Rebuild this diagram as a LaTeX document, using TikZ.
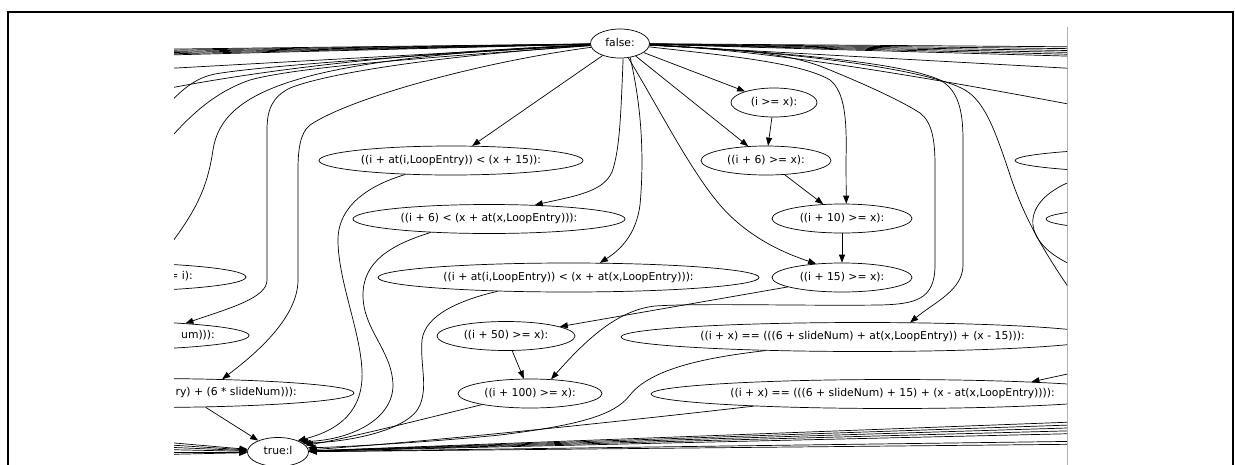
\documentclass[tikz,border=0pt]{standalone}
\usepackage{fontspec}
\setmainfont{DejaVu Sans}
\usetikzlibrary{shapes.geometric,arrows.meta}
\begin{document}
\begin{tikzpicture}[x=1pt,y=-1pt,
  gn/.style={draw, ellipse, line width=0.7pt, minimum height=29pt, inner sep=0pt,
             text height=7.6pt, text depth=2.4pt, font=\fontsize{10.8pt}{13pt}\selectfont},
  gt/.style={inner sep=0pt, text height=7.6pt, text depth=2.4pt,
             font=\fontsize{10.8pt}{13pt}\selectfont},
  ed/.style={line width=0.7pt, -{Triangle[length=8pt,width=6pt]}},
  ln/.style={line width=0.7pt},
]
\useasboundingbox (0,0) rectangle (1235,464);
% outer frame and right viewport border
\draw[line width=2pt] (8,12) rectangle (1233,500);
\draw[black!30, line width=1pt] (1067.5,27) -- (1067.5,470);

\begin{scope}
\clip (174,27) rectangle (1067,470);

% ---- nodes ----
\node[gn, minimum width=59pt]  (f)    at (620,43.5)   {false:};
\node[gn, minimum width=86pt]  (ige)  at (774,102.5)  {(i >= x):};
\node[gn, minimum width=264pt] (ca)   at (451,160.5)  {((i + at(i,LoopEntry)) < (x + 15)):};
\node[gn, minimum width=130pt] (i6)   at (766,160.5)  {((i + 6) >= x):};
\node[gn, minimum width=272pt] (cb)   at (489,219)    {((i + 6) < (x + at(x,LoopEntry))):};
\node[gn, minimum width=140pt] (i10)  at (842,218.5)  {((i + 10) >= x):};
\node[gn, minimum width=381pt] (cc)   at (568.5,277.5){((i + at(i,LoopEntry)) < (x + at(x,LoopEntry))):};
\node[gn, minimum width=140pt] (i15)  at (842,277.5)  {((i + 15) >= x):};
\node[gn, minimum width=138pt] (i50)  at (506,336)    {((i + 50) >= x):};
\node[gn, minimum width=144pt] (i100) at (530,393.5)  {((i + 100) >= x):};
\node[gn, minimum width=483pt] (cd)   at (862.5,337)  {((i + x) == (((6 + slideNum) + at(x,LoopEntry)) + (x - 15))):};
\node[gn, minimum width=483pt] (ce)   at (892.5,394)  {((i + x) == (((6 + slideNum) + 15) + (x - at(x,LoopEntry)))):};
\node[gn, minimum width=61pt]  (t)    at (278,452)    {true:l};

% nodes cut by the left edge of the view
\node[gn, minimum width=300pt] (p1) at (96,277) {};
\node[gt, anchor=east] (p1t) at (193,277) {= i):};
\node[gn, minimum width=300pt] (p2) at (99,335.5) {};
\node[gt, anchor=east] (p2t) at (215,335.5) {um))):};
\node[gn, minimum width=420pt] (p3) at (144,393) {};
\node[gt, anchor=east] (p3t) at (297,393) {ry) + (6 * slideNum))):};

% nodes cut by the right edge of the view
\node[gn, minimum width=482pt] (r1) at (1256,160.5) {};
\node[gn, minimum width=400pt] (r2) at (1246,219) {};

% ---- end points outside the view ----
\coordinate (lb1) at (140,49.5);
\coordinate (lb2) at (140,50.7);
\coordinate (lb3) at (140,52);
\coordinate (lb4) at (140,53.2);
\coordinate (lb5) at (140,54.5);
\coordinate (lb6) at (140,55.7);
\coordinate (lx2) at (140,70);
\coordinate (lx3) at (150,92);
\coordinate (lx4) at (155,120);
\coordinate (lx5) at (160,150);
\coordinate (lx6) at (150,270);

\coordinate (rb1) at (1100,47);
\coordinate (rb2) at (1100,49);
\coordinate (rb3) at (1100,51);
\coordinate (rb4) at (1100,53);
\coordinate (rb5) at (1100,55);
\coordinate (rb6) at (1100,57);
\coordinate (rx1) at (1100,70);
\coordinate (rx2) at (1100,110);
\coordinate (rx3) at (1090,318);
\coordinate (rl1) at (1090,175);
\coordinate (rl2) at (1090,272);
\coordinate (rin) at (1100,367);

\coordinate (rt1) at (1100,421);
\coordinate (rt2) at (1100,424);
\coordinate (rt3) at (1100,427);
\coordinate (rt4) at (1100,430);
\coordinate (rt5) at (1100,433);
\coordinate (rt6) at (1100,441);
\coordinate (rt7) at (1100,444);
\coordinate (lt1) at (140,440);
\coordinate (lt2) at (140,443);
\coordinate (lt3) at (140,446);
\coordinate (lt4) at (140,449);
\coordinate (lt5) at (140,452);
\coordinate (lt6) at (140,455);

% ---- edges leaving "false:" to the left ----
\foreach \k in {1,...,6} \draw[ed] (f) -- (lb\k);
\draw[ed] (f) -- (lx2);
\draw[ed] (f) .. controls (400,53) and (260,70) .. (lx3);
\draw[ed] (f) .. controls (420,55) and (260,66) .. (215,74)
              .. controls (195,78) and (180,90) .. (lx4);
\draw[ed] (f) .. controls (450,56) and (300,66) .. (250,80)
              .. controls (215,92) and (190,115) .. (lx5);
\draw[ed] (f) .. controls (300,58) and (222,90) .. (213,150)
              .. controls (207,190) and (195,215) .. (lx6);
\draw[ed] (f) .. controls (450,55) and (330,72) .. (290,88)
              .. controls (272,97) and (267,110) .. (267,130) -- (267,280)
              .. controls (267,298) and (230,308) .. (p2.8);
\draw[ed] (f) .. controls (480,62) and (350,98) .. (310,125)
              .. controls (300,133) and (298,150) .. (298,170) -- (298,280)
              .. controls (298,320) and (250,358) .. (p3.10);

% ---- edges leaving "false:" downwards ----
\draw[ed] (f) -- (ca);
\draw[ed] (f) -- (ige);
\draw[ed] (f) -- (i6);
\draw[ed] (f.-78) .. controls (621,110) and (620,150) .. (612,172)
                  .. controls (603,192) and (575,196) .. (cb.17);
\draw[ed] (f.-54) .. controls (640,100) and (645,150) .. (640,205)
                  .. controls (636,235) and (620,250) .. (cc.25);
\draw[ed] (f.-60) .. controls (660,110) and (690,170) .. (720,205)
                  .. controls (750,240) and (790,255) .. (i15.152);

% ---- edges leaving "false:" to the right ----
\foreach \k in {1,...,6} \draw[ed] (f) -- (rb\k);
\draw[ed] (f) -- (rx1);
\draw[ed] (f) .. controls (760,50) and (900,72) .. (rx2);
\draw[ed] (f) .. controls (720,55) and (800,62) .. (830,80)
              .. controls (845,92) and (847,120) .. (846,160) -- (i10.74);
\draw[ed] (f) .. controls (740,50) and (780,52) .. (820,66)
              .. controls (860,82) and (900,100) .. (920,113)
              .. controls (932,122) and (935,140) .. (935,165) -- (935,265)
              .. controls (935,300) and (915,304) .. (880,305)
              .. controls (800,306) and (700,303) .. (655,306)
              .. controls (620,310) and (590,335) .. (i100.34);
\draw[ed] (f) .. controls (780,52) and (900,62) .. (940,80)
              .. controls (958,90) and (963,110) .. (963,140) -- (963,265)
              .. controls (963,290) and (935,302) .. (cd.17);
\draw[ed] (f) .. controls (800,52) and (930,70) .. (965,90)
              .. controls (985,102) and (995,130) .. (1010,175)
              .. controls (1025,220) and (1045,255) .. (rx3);
\draw[ed] (rl1) .. controls (1015,195) and (1015,245) .. (rl2);
\draw[ed] (rin) -- (ce.5);

% ---- chain on the right ----
\draw[ed] (ige) -- (i6);
\draw[ed] (i6) -- (i10);
\draw[ed] (i10) -- (i15);
\draw[ed] (i15) -- (i50);
\draw[ed] (i50) -- (i100);

% ---- edges into "true:l" ----
\draw[ed] (ca.197) .. controls (370,185) and (338,205) .. (338,240)
                   .. controls (338,280) and (360,330) .. (362,370)
                   .. controls (364,410) and (340,430) .. (t.30);
\draw[ed] (cb.193) .. controls (390,245) and (363,262) .. (363,295)
                   .. controls (363,330) and (392,350) .. (393,385)
                   .. controls (393,420) and (350,440) .. (t.25);
\draw[ed] (cc.191) .. controls (460,300) and (425,315) .. (422,340)
                   .. controls (420,365) and (428,385) .. (420,405)
                   .. controls (410,430) and (350,442) .. (t.20);
\draw[ed] (i100.193) .. controls (420,420) and (340,440) .. (t.14);
\draw[ed] (cd.188) .. controls (700,358) and (650,370) .. (630,395)
                   .. controls (615,415) and (580,425) .. (500,435)
                   .. controls (420,443) and (340,447) .. (t.8);
\draw[ed] (ce.185) .. controls (650,418) and (450,440) .. (t.4);
\draw[ed] (p3.-13) -- (t.150);
\foreach \k in {1,...,7} \draw[ed] (rt\k) -- (t);
\foreach \k in {1,...,6} \draw[ed] (lt\k) -- (t);
\end{scope}
\end{tikzpicture}
\end{document}
